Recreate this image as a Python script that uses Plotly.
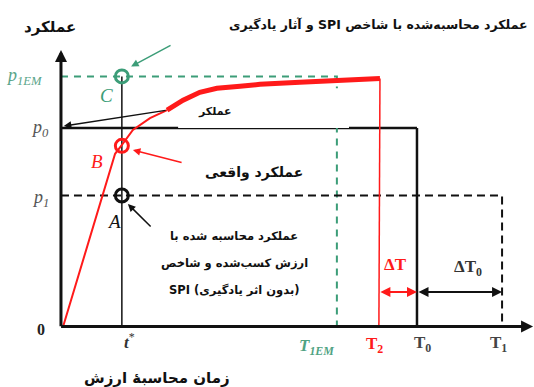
import plotly.graph_objects as go

# time points on the horizontal axis
t_star = 1.71
T_1EM = 7.75
T_2 = 8.93
T_0 = 10.0
T_1 = 12.39

# performance levels on the vertical axis
p_1EM = 1.26
p_0 = 1.0
p_1 = 0.66

# actual performance curve (thin part, then thick part)
curve_t = [0.06, 0.53, 0.90, 1.15, 1.29, 1.52, 1.69, 2.02, 2.50, 2.98]
curve_p = [0.00, 0.28, 0.50, 0.66, 0.74, 0.87, 0.91, 0.99, 1.05, 1.09]
curve_t_thick = [2.98, 3.43, 3.90, 4.38, 5.03, 5.59, 6.71, 7.84, 8.96]
curve_p_thick = [1.09, 1.14, 1.18, 1.20, 1.21, 1.22, 1.23, 1.24, 1.25]

# points measured at t*
point_names = ['C', 'B', 'A']
point_p = [p_1EM, 0.91, p_1]
point_colors = ['#3c9d78', '#ff1a1a', '#111111']

W, H = 534, 387
GREEN = '#3c9d78'
RED = '#ff1a1a'
BLACK = '#111111'
FA = 'DejaVu Sans'
SERIF = 'Liberation Serif'
RLE, PDF = '\u202b', '\u202c'


def at(px, py):
    return dict(x=px / W, y=1 - py / H, xref='paper', yref='paper',
                xanchor='center', yanchor='middle')


def line(fig, x, y, color, width, dash='solid'):
    fig.add_trace(go.Scatter(x=x, y=y, mode='lines', hoverinfo='skip',
                             line=dict(color=color, width=width, dash=dash)))


fig = go.Figure()

# reference lines drawn as traces
line(fig, [0, T_1, T_1], [p_1, p_1, 0], BLACK, 2, '8px,5px')
line(fig, [T_0, T_0], [p_0, 0], BLACK, 2.5)
line(fig, [t_star, t_star], [p_1EM, 0], BLACK, 1.5)
line(fig, [curve_t_thick[-1], T_2], [curve_p_thick[-1], 0], RED, 1.5)

# actual performance
line(fig, curve_t, curve_p, RED, 2)
line(fig, curve_t_thick, curve_p_thick, RED, 5)

fig.add_trace(go.Scatter(
    x=[t_star] * len(point_p), y=point_p, mode='markers', hoverinfo='skip',
    marker=dict(symbol='circle-open', size=13, color=point_colors,
                line=dict(width=3))))

# lines hidden behind the white label box
fig.add_shape(type='line', x0=0, x1=T_0, y0=p_0, y1=p_0, layer='below',
              line=dict(color=BLACK, width=2.5))
fig.add_shape(type='path', layer='below',
              path=f'M 0,{p_1EM} L {T_1EM},{p_1EM} L {T_1EM},0',
              line=dict(color=GREEN, width=2, dash='7px,6px'))
fig.add_shape(type='rect', x0=3.29, x1=8.09, y0=p_0, y1=1.20, layer='below',
              fillcolor='white', line=dict(width=0))

# axes with arrow heads and the callout arrows
arrows = [
    # (head x, head y, tail x, tail y, color, width, both ends)
    (0, 1.393, 0, -0.006, BLACK, 3, False),
    (13.26, 0, -0.04, 0, BLACK, 3, False),
    (1.97, 1.31, 3.12, 1.42, GREEN, 1.5, False),
    (0.08, 1.01, 2.98, 1.09, BLACK, 1.5, False),
    (2.02, 0.889, 3.43, 0.824, RED, 1.5, False),
    (1.88, 0.617, 2.56, 0.496, BLACK, 1.5, False),
    (T_0, 0.174, T_2, 0.174, RED, 2, True),
    (T_1, 0.174, T_0, 0.174, BLACK, 2, True),
]
for hx, hy, tx, ty, c, w, both in arrows:
    fig.add_annotation(x=hx, y=hy, ax=tx, ay=ty, xref='x', yref='y',
                       axref='x', ayref='y', text='', showarrow=True,
                       arrowhead=2, arrowsize=1 if w < 3 else 0.8,
                       arrowwidth=w, arrowcolor=c, standoff=0, startstandoff=0,
                       arrowside='end+start' if both else 'end')

# axis labels
ser = dict(family=SERIF, size=18)
fig.add_annotation(x=0, y=p_1EM, xref='x', yref='y', xanchor='right',
                   xshift=-16, text='<i>p<sub>1EM</sub></i>', showarrow=False,
                   font=dict(ser, color='#5aa58a'))
fig.add_annotation(x=0, y=p_0, xref='x', yref='y', xanchor='right',
                   xshift=-10, text='<i>p<sub>0</sub></i>', showarrow=False,
                   font=dict(ser, color='#555'))
fig.add_annotation(x=0, y=p_1, xref='x', yref='y', xanchor='right',
                   xshift=-10, yshift=-3, text='<i>p<sub>1</sub></i>',
                   showarrow=False, font=dict(ser, color='#555'))
fig.add_annotation(x=0, y=0, xref='x', yref='y', xanchor='right',
                   xshift=-14, yshift=-3, text='<b>0</b>', showarrow=False,
                   font=dict(family=SERIF, size=16, color='#222'))

tick_labels = [
    # (position, label, colour, x shift, y shift)
    (t_star, '<b><i>t</i></b><sup>*</sup>', '#333', 8, -2),
    (T_1EM, '<b><i>T<sub>1EM</sub></i></b>', '#4fa383', -20, -8),
    (T_2, '<b>T<sub>2</sub></b>', RED, -4, -6),
    (T_0, '<b>T<sub>0</sub></b>', '#444', 6, -5),
    (T_1, '<b>T<sub>1</sub></b>', '#444', -4, -5),
]
for tx, txt, c, dx, dy in tick_labels:
    fig.add_annotation(x=tx, y=0, xref='x', yref='y', yanchor='top',
                       xshift=dx, yshift=dy, text=txt, showarrow=False,
                       font=dict(family=SERIF, size=17, color=c))

for name, p, c, dx, dy in zip(point_names, point_p, point_colors,
                              [-15, -25, -8], [-19, -16, -26]):
    fig.add_annotation(x=t_star, y=p, xref='x', yref='y', xshift=dx,
                       yshift=dy, text=f'<i>{name}</i>', showarrow=False,
                       font=dict(family=SERIF, size=19, color=c))

fig.add_annotation(x=(T_2 + T_0) / 2, y=0.174, xref='x', yref='y',
                   yshift=27, xshift=-2, text='<b>ΔT</b>', showarrow=False,
                   font=dict(family=SERIF, size=17, color=RED))
fig.add_annotation(x=(T_0 + T_1) / 2, y=0.174, xref='x', yref='y',
                   yshift=24, xshift=8, text='<b>ΔT<sub>0</sub></b>',
                   showarrow=False, font=dict(family=SERIF, size=17, color='#333'))

# persian captions
captions = [
    (50, 27, 'عملکرد', 15),
    (378, 25, RLE + 'عملکرد محاسبه‌شده با شاخص SPI و آثار یادگیری' + PDF, 12.5),
    (215, 112, 'عملکر', 11),
    (254, 172, 'عملکرد واقعی', 14),
    (234, 236, 'عملکرد محاسبه شده با', 11.5),
    (234, 263, 'ارزش کسب‌شده و شاخص', 11.5),
    (234, 290, 'SPI (بدون اثر یادگیری)', 11.5),
    (157, 378, 'زمان محاسبهٔ ارزش', 15),
]
for px, py, txt, size in captions:
    fig.add_annotation(**at(px, py), text=f'<b>{txt}</b>', showarrow=False,
                       font=dict(family=FA, size=size, color='#111'))

fig.update_xaxes(range=[-1.713, 13.287], visible=False, fixedrange=True)
fig.update_yaxes(range=[-0.305, 1.645], visible=False, fixedrange=True)
fig.update_layout(width=W, height=H, margin=dict(l=0, r=0, t=0, b=0),
                  plot_bgcolor='white', paper_bgcolor='white', showlegend=False)

fig.write_html('out.html', config={'displayModeBar': False},
               post_script="document.body.style.margin='0';")
